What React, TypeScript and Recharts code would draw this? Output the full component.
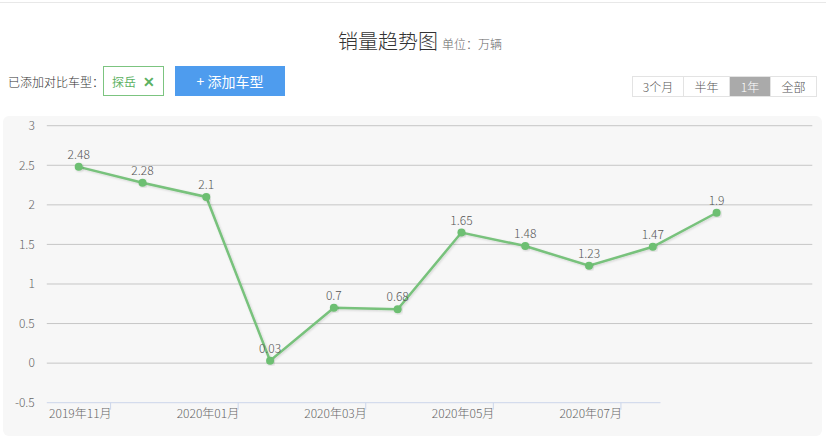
import React from "react";
import {
  LineChart,
  Line,
  XAxis,
  YAxis,
  ReferenceLine,
  LabelList,
} from "recharts";

// sales per month, unit: 10k vehicles
const salesValues = [2.48, 2.28, 2.1, 0.03, 0.7, 0.68, 1.65, 1.48, 1.23, 1.47, 1.9];
const monthLabels = ["2019年11月", "2020年01月", "2020年03月", "2020年05月", "2020年07月"];
const yTicks = [-0.5, 0, 0.5, 1, 1.5, 2, 2.5, 3];
const rangeButtons = ["3个月", "半年", "1年", "全部"];
const activeRange = "1年";
const compareModels = ["探岳"];

const data = salesValues.map((v, i) => ({ i, value: v }));
// label ticks sit between every other point
const xTicks = monthLabels.map((_, k) => 2 * k + 0.5);
const xDomain: [number, number] = [-0.5, 11.5];
const axisEnd = 9.12;

const FONT = '"Microsoft YaHei", "Noto Sans CJK SC", "Noto Sans", sans-serif';
const GREEN = "#78c27c";

const MonthTick = (props: any) => {
  const { x, y, payload } = props;
  const idx = xTicks.indexOf(payload.value);
  return (
    <text
      x={x + 1}
      y={y + 6}
      textAnchor="end"
      fill="#666"
      fontSize={12}
      fontFamily={FONT}
      fontWeight={300}
    >
      {monthLabels[idx]}
    </text>
  );
};

function Header() {
  return (
    <>
      <div
        style={{
          position: "absolute",
          left: 0,
          top: 2,
          width: 826,
          height: 1,
          background: "#e8e8e8",
        }}
      />
      <div
        style={{
          position: "absolute",
          left: 338,
          top: 26,
          fontSize: 20,
          fontWeight: 300,
          color: "#333",
          whiteSpace: "nowrap",
        }}
      >
        销量趋势图
        <span style={{ fontSize: 12, color: "#666", marginLeft: 4 }}>单位：万辆</span>
      </div>
      <div
        style={{
          position: "absolute",
          left: 8,
          top: 73,
          fontSize: 12,
          fontWeight: 300,
          color: "#333",
          whiteSpace: "nowrap",
        }}
      >
        已添加对比车型：
      </div>
      {compareModels.map((m) => (
        <div
          key={m}
          style={{
            position: "absolute",
            left: 103,
            top: 66,
            width: 59,
            height: 28,
            border: "1px solid #7cc480",
            color: "#5cb162",
            fontSize: 12,
            lineHeight: "28px",
            textAlign: "center",
            background: "#fff",
          }}
        >
          {m}
          <span style={{ marginLeft: 7, fontSize: 14, fontWeight: "bold" }}>✕</span>
        </div>
      ))}
      <div
        style={{
          position: "absolute",
          left: 175,
          top: 66,
          width: 110,
          height: 30,
          background: "#4e9cee",
          color: "#fff",
          fontSize: 14,
          lineHeight: "30px",
          textAlign: "center",
        }}
      >
        + 添加车型
      </div>
      <div
        style={{
          position: "absolute",
          left: 632,
          top: 76,
          display: "flex",
          border: "1px solid #e3e3e3",
          background: "#fff",
        }}
      >
        {rangeButtons.map((b, k) => (
          <div
            key={b}
            style={{
              width: b === "3个月" ? 50 : b === "1年" ? 40 : 45,
              height: 19,
              lineHeight: "19px",
              textAlign: "center",
              fontSize: 12,
              fontWeight: 300,
              color: b === activeRange ? "#fff" : "#555",
              background: b === activeRange ? "#aaaaaa" : "#fff",
              borderLeft: k > 0 ? "1px solid #e3e3e3" : "none",
            }}
          >
            {b}
          </div>
        ))}
      </div>
    </>
  );
}

export default function App() {
  return (
    <div
      style={{
        position: "absolute",
        left: 0,
        top: 0,
        width: 826,
        height: 438,
        background: "#fff",
        fontFamily: FONT,
        overflow: "hidden",
      }}
    >
      <Header />
      <div
        style={{
          position: "absolute",
          left: 3,
          top: 116,
          width: 819,
          height: 320,
          background: "#f7f7f7",
          borderRadius: 6,
        }}
      />
      <div style={{ position: "absolute", left: 0, top: 0 }}>
        <LineChart
          width={826}
          height={438}
          data={data}
          margin={{ top: 125.7, right: 13.7, left: 6.8, bottom: 5.3 }}
        >
          <defs>
            <filter id="lineShadow" x="-5%" y="-5%" width="110%" height="120%">
              <feDropShadow dx="1" dy="1" stdDeviation="1" floodColor="#000" floodOpacity="0.15" />
            </filter>
          </defs>
          <XAxis
            dataKey="i"
            type="number"
            domain={xDomain}
            ticks={xTicks}
            interval={0}
            axisLine={false}
            tickLine={{ stroke: "#ccd6eb" }}
            tickSize={7}
            tickMargin={2}
            height={30}
            tick={<MonthTick />}
          />
          <YAxis
            domain={[-0.5, 3]}
            ticks={yTicks}
            interval={0}
            width={40}
            axisLine={false}
            tickLine={false}
            tickSize={0}
            tickMargin={12}
            tick={{ fill: "#666", fontSize: 12, fontFamily: FONT, fontWeight: 300 }}
          />
          {yTicks
            .filter((v) => v > -0.5)
            .map((v) => (
              <ReferenceLine key={v} y={v} stroke="#c6c6c6" strokeWidth={1} />
            ))}
          <ReferenceLine
            segment={[
              { x: xDomain[0], y: -0.5 },
              { x: axisEnd, y: -0.5 },
            ]}
            stroke="#ccd6eb"
            strokeWidth={1}
          />
          <Line
            type="linear"
            dataKey="value"
            stroke={GREEN}
            strokeWidth={2.5}
            dot={{ r: 4, fill: "#6dbf72", stroke: "#6dbf72", strokeWidth: 0 }}
            isAnimationActive={false}
            filter="url(#lineShadow)"
          >
            <LabelList
              dataKey="value"
              position="top"
              offset={8}
              fill="#555"
              fontSize={12}
              fontFamily={FONT}
              fontWeight={300}
            />
          </Line>
        </LineChart>
      </div>
    </div>
  );
}
